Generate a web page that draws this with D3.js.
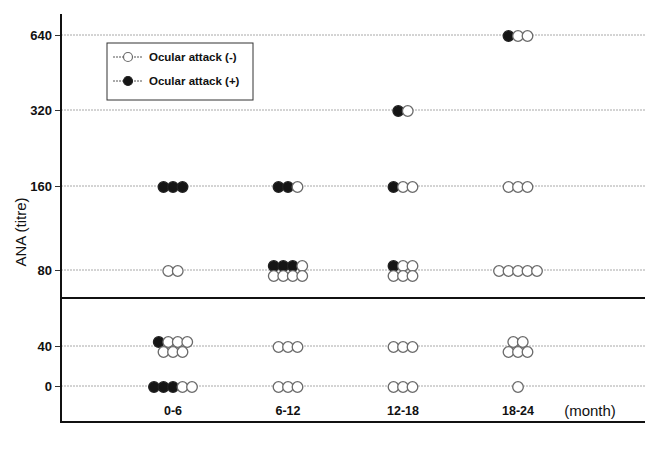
<!DOCTYPE html>
<html>
<head>
<meta charset="utf-8">
<script src="https://cdn.jsdelivr.net/npm/d3@7"></script>
<style>
  body { margin: 0; background: #fff; }
  svg { font-family: 'Liberation Sans', Arial, sans-serif; }
</style>
</head>
<body>
<div id="viz"></div>
<script>
const width = 651;
const height = 450;
const margin = {top: 14, right: 6, bottom: 29, left: 61};

// Data
const months = ['0-6', '6-12', '12-18', '18-24'];
const titres = ['0', '40', '80', '160', '320', '640'];
const cutoffTitreIndex = 1.63; // thick line between 40 and 80
// each cell: month, titre, rows of patients ('+' ocular attack, '-' no ocular attack)
const cellMonths = ['0-6', '0-6', '0-6', '0-6', '6-12', '6-12', '6-12', '6-12', '12-18', '12-18', '12-18', '12-18', '12-18', '18-24', '18-24', '18-24', '18-24', '18-24'];
const cellTitres = ['160', '80', '40', '0', '160', '80', '40', '0', '320', '160', '80', '40', '0', '640', '160', '80', '40', '0'];
const cellRows = [
  ['+++'], ['--'], ['+---', '---'], ['+++--'],
  ['++-'], ['+++-', '----'], ['---'], ['---'],
  ['+-'], ['+--'], ['+--', '---'], ['---'], ['---'],
  ['+--'], ['---'], ['-----'], ['--', '---'], ['-']
];
const legendLabels = ['Ocular attack (-)', 'Ocular attack (+)'];

const dotRadius = 5.3;
const dotStep = 9.5;

const svg = d3.select('#viz')
  .append('svg')
    .attr('width', width)
    .attr('height', height);

// Scales
const xScale = d3.scalePoint()
  .domain(months)
  .range([173, 518]);
const yScale = d3.scaleLinear()
  .domain([0, 1, 2, 3, 4, 5])
  .range([386, 346, 270, 186, 110, 35]);
const yPos = t => yScale(titres.indexOf(t));

// Gridlines
svg.append('g')
    .attr('class', 'grid')
  .selectAll('line')
  .data(titres)
  .join('line')
    .attr('x1', margin.left)
    .attr('x2', width - margin.right)
    .attr('y1', d => yPos(d))
    .attr('y2', d => yPos(d))
    .attr('stroke', '#a8a8a8')
    .attr('stroke-width', 1)
    .attr('stroke-dasharray', '2,1');

// Cut-off line
svg.append('line')
    .attr('x1', margin.left)
    .attr('x2', width - margin.right)
    .attr('y1', yScale(cutoffTitreIndex))
    .attr('y2', yScale(cutoffTitreIndex))
    .attr('stroke', '#111')
    .attr('stroke-width', 2);

// Y axis
const yAxis = d3.axisLeft(d3.scaleOrdinal().domain(titres).range(titres.map(yPos)))
  .tickSize(6)
  .tickPadding(3);
const yAxisGroup = svg.append('g')
    .attr('transform', `translate(${margin.left}, 0)`)
    .call(yAxis);
yAxisGroup.select('.domain').remove();
yAxisGroup.selectAll('.tick line').attr('stroke', '#333');
yAxisGroup.selectAll('.tick text')
    .attr('fill', '#111')
    .style('font-size', '13px')
    .style('font-weight', 'bold')
    .style('font-family', "'Liberation Sans', Arial, sans-serif");

// Axis lines
svg.append('line')
    .attr('x1', margin.left)
    .attr('x2', margin.left)
    .attr('y1', margin.top)
    .attr('y2', height - margin.bottom + 2)
    .attr('stroke', '#111')
    .attr('stroke-width', 2);
svg.append('line')
    .attr('x1', margin.left)
    .attr('x2', width - margin.right)
    .attr('y1', height - margin.bottom + 1)
    .attr('y2', height - margin.bottom + 1)
    .attr('stroke', '#111')
    .attr('stroke-width', 2);

// X labels
svg.append('g')
  .selectAll('text')
  .data(months)
  .join('text')
    .attr('x', d => xScale(d))
    .attr('y', 415)
    .attr('text-anchor', 'middle')
    .style('font-size', '12.5px')
    .style('font-weight', 'bold')
    .attr('fill', '#111')
    .text(d => d);
svg.append('text')
    .attr('x', 590)
    .attr('y', 416)
    .attr('text-anchor', 'middle')
    .style('font-size', '15px')
    .attr('fill', '#111')
    .text('(month)');

// Y title
svg.append('text')
    .attr('transform', 'translate(26, 232) rotate(-90)')
    .attr('text-anchor', 'middle')
    .style('font-size', '15px')
    .attr('fill', '#111')
    .text('ANA (titre)');

// Dots
const dots = [];
cellRows.forEach((rows, i) => {
  const cx = xScale(cellMonths[i]);
  const cy = yPos(cellTitres[i]);
  rows.forEach((row, r) => {
    const rowY = rows.length > 1 ? cy + (r === 0 ? -4 : 6) : cy + 1;
    const n = row.length;
    row.split('').forEach((s, k) => {
      dots.push({
        x: cx + (k - (n - 1) / 2) * dotStep,
        y: rowY,
        attack: s === '+'
      });
    });
  });
});

svg.append('g')
    .attr('class', 'dots')
  .selectAll('circle')
  .data(dots)
  .join('circle')
    .attr('cx', d => d.x)
    .attr('cy', d => d.y)
    .attr('r', dotRadius)
    .attr('fill', d => d.attack ? '#151515' : '#fff')
    .attr('stroke', d => d.attack ? '#222' : '#6a6a6a')
    .attr('stroke-width', 1.3);

// Legend
const legend = svg.append('g')
    .attr('transform', 'translate(107, 43)');
legend.append('rect')
    .attr('width', 146)
    .attr('height', 57)
    .attr('fill', '#fff')
    .attr('stroke', '#333')
    .attr('stroke-width', 1);
const legendItems = legend.selectAll('.legend-item')
  .data(legendLabels)
  .join('g')
    .attr('class', 'legend-item')
    .attr('transform', (d, i) => `translate(0, ${14 + i * 24})`);
legendItems.append('line')
    .attr('x1', 6)
    .attr('x2', 36)
    .attr('stroke', '#555')
    .attr('stroke-width', 1)
    .attr('stroke-dasharray', '2,1');
legendItems.append('circle')
    .attr('cx', 21)
    .attr('r', 4.5)
    .attr('fill', (d, i) => i === 1 ? '#151515' : '#fff')
    .attr('stroke', (d, i) => i === 1 ? '#222' : '#6a6a6a')
    .attr('stroke-width', 1.2);
legendItems.append('text')
    .attr('x', 42)
    .attr('y', 4)
    .style('font-size', '11.5px')
    .style('font-weight', 'bold')
    .attr('fill', '#111')
    .text(d => d);
</script>
</body>
</html>
